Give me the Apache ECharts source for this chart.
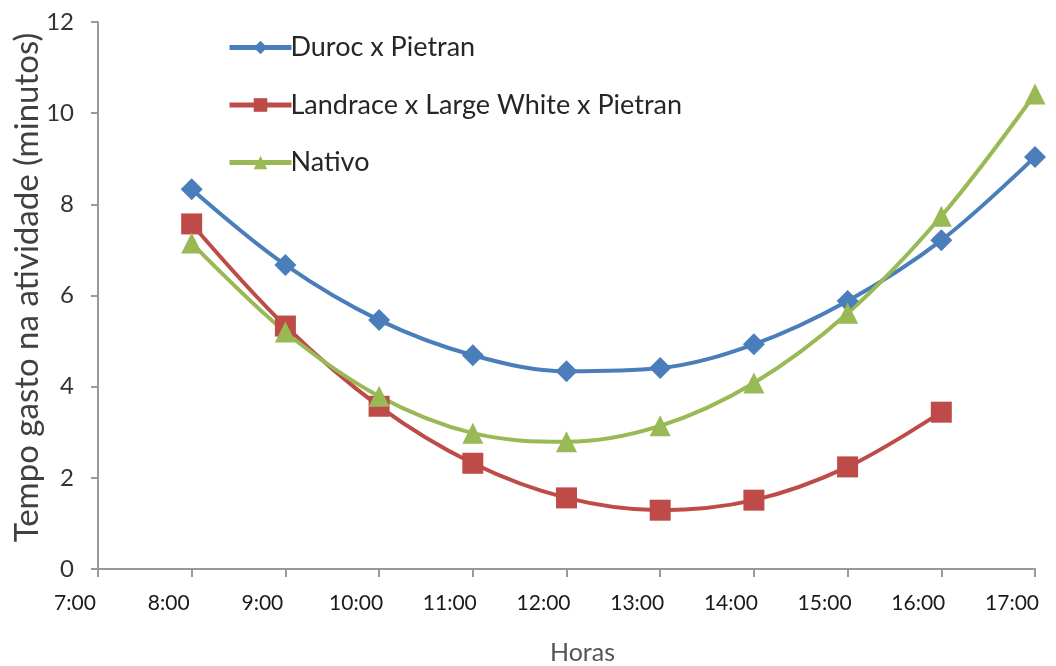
<!DOCTYPE html>
<html><head><meta charset="utf-8">
<script src="https://cdn.jsdelivr.net/npm/echarts@6/dist/echarts.min.js"></script>
<style>html,body{margin:0;padding:0;background:#fff}#c{width:1056px;height:666px}</style>
</head><body><div id="c"></div>
<script>
var hours = [8, 9, 10, 11, 12, 13, 14, 15, 16, 17];
var duroc = [8.33, 6.67, 5.46, 4.69, 4.34, 4.41, 4.93, 5.88, 7.21, 9.04];
var landrace = [7.57, 5.33, 3.57, 2.32, 1.56, 1.29, 1.51, 2.24, 3.44];
var nativo = [7.15, 5.20, 3.79, 2.98, 2.79, 3.14, 4.08, 5.61, 7.74, 10.42];
var names = ['Duroc x Pietran', 'Landrace x Large White x Pietran', 'Nativo'];

function pairs(v){ return v.map(function(y,i){ return [hours[i], y]; }); }
var font = 'Lato, Open Sans, sans-serif';
var chart = echarts.init(document.getElementById('c'));
chart.setOption({
  animation:false,
  grid:{left:98,right:21,top:22,bottom:97,containLabel:false,outerBoundsMode:'none'},
  legend:{
    orient:'vertical', left:222, top:29, itemGap:30.5, itemWidth:62, itemHeight:17,
    lineStyle:{width:5},
    textStyle:{fontFamily:font,fontSize:27,color:'#262626',padding:[0,0,0,-6]},
    data:names
  },
  xAxis:{
    type:'value', min:7, max:17, interval:1,
    name:'Horas', nameLocation:'middle', nameGap:71, nameMoveOverlap:false,
    nameTextStyle:{fontFamily:font,fontSize:25,color:'#555',padding:[0,0,0,32]},
    axisLine:{lineStyle:{color:'#9a9a9a',width:2}},
    axisTick:{show:true,length:8,lineStyle:{color:'#9a9a9a',width:2}},
    splitLine:{show:false},
    axisLabel:{fontFamily:font,fontSize:21,color:'#1a1a1a',margin:24,align:'center',padding:[0,46,0,0],
      formatter:function(v){return v+':00';}}
  },
  yAxis:{
    type:'value', min:0, max:12, interval:2,
    name:'Tempo gasto na atividade (minutos)', nameLocation:'middle', nameGap:54, nameRotate:90,
    nameMoveOverlap:false,
    nameTextStyle:{fontFamily:font,fontSize:33,color:'#404040',padding:[0,0,0,16]},
    axisLine:{show:true,lineStyle:{color:'#9a9a9a',width:2}},
    axisTick:{show:true,length:7,lineStyle:{color:'#9a9a9a',width:2}},
    splitLine:{show:false},
    axisLabel:{fontFamily:font,fontSize:24,color:'#333',margin:24}
  },
  series:[
    {name:names[0],type:'line',smooth:0.35,data:pairs(duroc),symbol:'diamond',symbolSize:22,
     lineStyle:{color:'#4A7EBB',width:4},itemStyle:{color:'#4A7EBB'}},
    {name:names[1],type:'line',smooth:0.35,data:pairs(landrace),symbol:'rect',symbolSize:21,
     lineStyle:{color:'#BE4B48',width:4},itemStyle:{color:'#BE4B48'}},
    {name:names[2],type:'line',smooth:0.35,data:pairs(nativo),symbol:'triangle',symbolSize:21,
     lineStyle:{color:'#98B954',width:4},itemStyle:{color:'#98B954'}}
  ]
});
</script></body></html>
